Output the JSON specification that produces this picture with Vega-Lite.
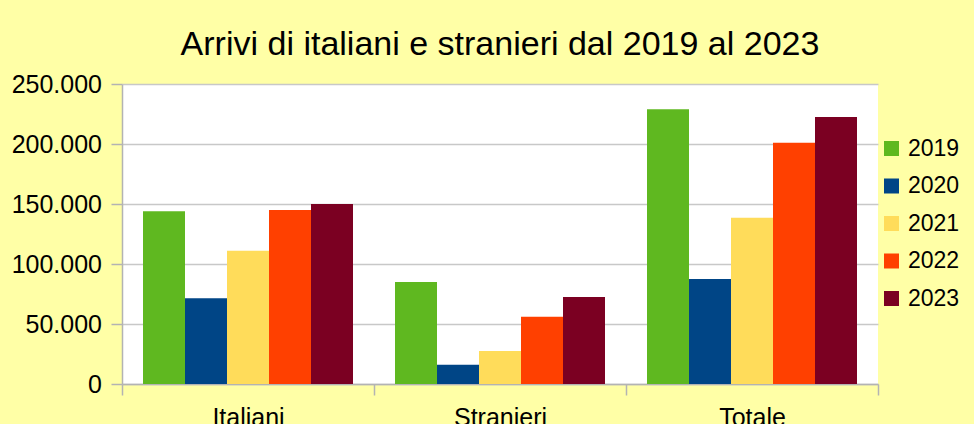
{
  "$schema": "https://vega.github.io/schema/vega-lite/v6.json",
  "width": 756,
  "height": 300,
  "autosize": {"type": "none"},
  "padding": {"left": 122, "top": 84, "right": 96, "bottom": 40},
  "background": "#ffffa6",
  "title": {
    "text": "Arrivi di italiani e stranieri dal 2019 al 2023",
    "fontSize": 34,
    "font": "Liberation Sans",
    "fontWeight": "normal",
    "color": "#000000",
    "anchor": "middle",
    "baseline": "alphabetic",
    "offset": 30,
    "dy": 47
  },
  "data": {
    "values": [
      {"cat": "Italiani", "anno": "2019", "value": 144000},
      {"cat": "Italiani", "anno": "2020", "value": 71500},
      {"cat": "Italiani", "anno": "2021", "value": 111000},
      {"cat": "Italiani", "anno": "2022", "value": 145000},
      {"cat": "Italiani", "anno": "2023", "value": 150000},
      {"cat": "Stranieri", "anno": "2019", "value": 85000},
      {"cat": "Stranieri", "anno": "2020", "value": 16000},
      {"cat": "Stranieri", "anno": "2021", "value": 27500},
      {"cat": "Stranieri", "anno": "2022", "value": 56000},
      {"cat": "Stranieri", "anno": "2023", "value": 72500},
      {"cat": "Totale", "anno": "2019", "value": 229000},
      {"cat": "Totale", "anno": "2020", "value": 87500},
      {"cat": "Totale", "anno": "2021", "value": 138500},
      {"cat": "Totale", "anno": "2022", "value": 201000},
      {"cat": "Totale", "anno": "2023", "value": 222500}
    ]
  },
  "mark": {"type": "bar"},
  "encoding": {
    "x": {
      "field": "cat",
      "type": "nominal",
      "sort": ["Italiani", "Stranieri", "Totale"],
      "scale": {"paddingInner": 0, "paddingOuter": 0},
      "axis": {
        "title": null,
        "labelAngle": 0,
        "tickBand": "extent",
        "grid": false,
        "domainColor": "#b3b3b3",
        "domainWidth": 1.5,
        "tickColor": "#b3b3b3",
        "tickWidth": 1.5,
        "tickSize": 11,
        "labelFontSize": 25,
        "labelColor": "#000000",
        "labelPadding": 10
      }
    },
    "xOffset": {
      "field": "anno",
      "type": "nominal",
      "scale": {"paddingInner": 0, "paddingOuter": 0.5}
    },
    "y": {
      "field": "value",
      "type": "quantitative",
      "scale": {"domain": [0, 250000], "nice": false},
      "axis": {
        "title": null,
        "values": [0, 50000, 100000, 150000, 200000, 250000],
        "labelExpr": "replace(format(datum.value, ','), ',', '.')",
        "grid": true,
        "gridColor": "#c8c8c8",
        "gridWidth": 1.5,
        "domainColor": "#b3b3b3",
        "domainWidth": 1.5,
        "tickColor": "#b3b3b3",
        "tickWidth": 1.5,
        "tickSize": 11,
        "labelFontSize": 25,
        "labelColor": "#000000",
        "labelPadding": 9.5
      }
    },
    "color": {
      "field": "anno",
      "type": "nominal",
      "scale": {
        "domain": ["2019", "2020", "2021", "2022", "2023"],
        "range": ["#5fb820", "#004586", "#ffdc5a", "#ff4000", "#7b0022"]
      },
      "legend": {
        "title": null,
        "orient": "none",
        "legendX": 758,
        "legendY": 53,
        "padding": 0,
        "symbolType": "square",
        "symbolSize": 225,
        "symbolStrokeWidth": 0,
        "labelFontSize": 23,
        "labelColor": "#000000",
        "labelOffset": 5,
        "rowPadding": 13.5
      }
    }
  },
  "config": {
    "font": "Liberation Sans",
    "view": {"fill": "#ffffff", "stroke": null}
  }
}
